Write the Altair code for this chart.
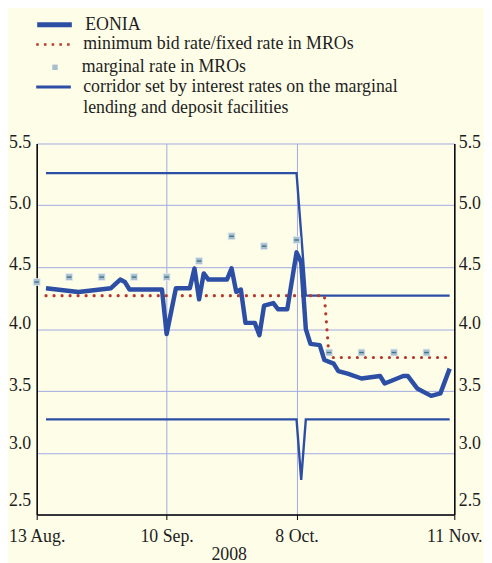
import altair as alt
import pandas as pd

# ---------------- data ----------------
eonia_dates = ["2008-08-15", "2008-08-22", "2008-08-29", "2008-08-31", "2008-09-01", "2008-09-02",
               "2008-09-09", "2008-09-10", "2008-09-12", "2008-09-15", "2008-09-16", "2008-09-17",
               "2008-09-18", "2008-09-19", "2008-09-23", "2008-09-24", "2008-09-25", "2008-09-26",
               "2008-09-27", "2008-09-29", "2008-09-30", "2008-10-01", "2008-10-03", "2008-10-04",
               "2008-10-06", "2008-10-08", "2008-10-09", "2008-10-10", "2008-10-11", "2008-10-13",
               "2008-10-14", "2008-10-16", "2008-10-17", "2008-10-19", "2008-10-22", "2008-10-26",
               "2008-10-27", "2008-10-31", "2008-11-01", "2008-11-03", "2008-11-06", "2008-11-08",
               "2008-11-10"]
eonia_values = [4.33, 4.30, 4.33, 4.40, 4.38, 4.32,
                4.32, 3.96, 4.33, 4.33, 4.49, 4.24,
                4.45, 4.40, 4.40, 4.49, 4.30, 4.32,
                4.05, 4.05, 3.95, 4.19, 4.21, 4.16,
                4.16, 4.62, 4.54, 4.00, 3.88, 3.87,
                3.75, 3.72, 3.66, 3.64, 3.60, 3.62,
                3.56, 3.62, 3.62, 3.52, 3.46, 3.48,
                3.68]

mro_dates = ["2008-08-15", "2008-10-14", "2008-10-15", "2008-11-10"]
mro_values = [4.27, 4.27, 3.77, 3.77]

marginal_dates = ["2008-08-13", "2008-08-20", "2008-08-27", "2008-09-03", "2008-09-10", "2008-09-17",
                  "2008-09-24", "2008-10-01", "2008-10-08", "2008-10-15", "2008-10-22", "2008-10-29",
                  "2008-11-05"]
marginal_values = [4.38, 4.42, 4.42, 4.42, 4.42, 4.55, 4.75, 4.67, 4.72, 3.81, 3.81, 3.81, 3.81]

upper_dates = ["2008-08-15", "2008-10-08", "2008-10-09", "2008-10-10", "2008-11-10"]
upper_values = [5.26, 5.26, 4.77, 4.27, 4.27]
lower_dates = ["2008-08-15", "2008-10-08", "2008-10-09", "2008-10-10", "2008-11-10"]
lower_values = [3.27, 3.27, 2.78, 3.27, 3.27]

x_tick_dates = [(2008, 8, 13), (2008, 9, 10), (2008, 10, 8), (2008, 11, 11)]
y_ticks = [2.5, 3.0, 3.5, 4.0, 4.5, 5.0, 5.5]
# vertical nudge of each y tick label as drawn in the original (labels sit a little above their lines)
y_label_nudge = [-14.5, -9, -5, -5.5, -2.5, -1.5, -0.5]

series_names = ["EONIA", "minimum bid rate/fixed rate in MROs", "marginal rate in MROs",
                "corridor set by interest rates on the marginal"]
corridor_label2 = "lending and deposit facilities"

# ---------------- tables ----------------
df_e = pd.DataFrame({"date": eonia_dates, "value": eonia_values, "series": series_names[0]})
df_m = pd.DataFrame({"date": mro_dates, "value": mro_values, "series": series_names[1]})
df_r = pd.DataFrame({"date": marginal_dates, "value": marginal_values, "series": series_names[2]})
df_c = pd.concat([
    pd.DataFrame({"date": upper_dates, "value": upper_values, "band": "upper"}),
    pd.DataFrame({"date": lower_dates, "value": lower_values, "band": "lower"}),
])
df_c["series"] = series_names[3]

BLUE = "#2c4ea5"
RED = "#b83a2c"
FONT = "Liberation Serif"
FS = 18
TXT = "#1e1e1e"
GRID = "#a3aae3"

dt = lambda t: alt.DateTime(year=t[0], month=t[1], date=t[2], utc=True)
xscale = alt.Scale(type="utc", domain=[dt(x_tick_dates[0]), dt(x_tick_dates[-1])])
yscale = alt.Scale(domain=[2.5, 5.5], nice=False, zero=False)

nudge = {"condition": [{"test": f"datum.value == {v}", "value": n}
                       for v, n in zip(y_ticks, y_label_nudge)], "value": 0}

xaxis = alt.Axis(values=[dt(t) for t in x_tick_dates],
                 labelExpr="utcFormat(datum.value, '%-d %b') + '.'",
                 grid=True, gridColor=GRID, gridWidth=1,
                 tickSize=5, tickColor="black", domainColor="black", domainWidth=1.5,
                 labelFont=FONT, labelFontSize=FS, labelColor=TXT, labelPadding=8,
                 labelAlign="center", labelFlush=False,
                 title="2008", titleFont=FONT, titleFontSize=FS, titleFontWeight="normal",
                 titleColor=TXT, titleX=194, titleY=40, titleAlign="center",
                 titleBaseline="middle")

yaxis_left = alt.Axis(orient="left", values=y_ticks, format=".1f", grid=True, gridColor=GRID,
                      gridWidth=1, ticks=False, domainColor="black", domainWidth=1.5,
                      labelFont=FONT, labelFontSize=FS, labelColor=TXT, labelPadding=6,
                      labelFlush=False, labelOffset=nudge, title=None)
yaxis_right = alt.Axis(orient="right", values=y_ticks, format=".1f", grid=False,
                       ticks=False, domainColor="black", domainWidth=1.5,
                       labelFont=FONT, labelFontSize=FS, labelColor=TXT, labelPadding=4,
                       labelFlush=False, labelOffset=nudge, title=None)

def leg(x, y, **kw):
    return alt.Legend(orient="none", legendX=x, legendY=y, title=None, padding=0,
                      labelFont=FONT, labelFontSize=FS, labelColor=TXT, labelLimit=0, **kw)

eonia = alt.Chart(df_e).mark_line(strokeWidth=4.5, strokeJoin="round").encode(
    x=alt.X("date:T", scale=xscale, axis=xaxis),
    y=alt.Y("value:Q", scale=yscale, axis=yaxis_left),
    color=alt.Color("series:N", scale=alt.Scale(domain=[series_names[0]], range=[BLUE]),
                    legend=leg(-2, -140, symbolType="stroke", symbolStrokeWidth=5,
                               symbolSize=1225, labelOffset=11)),
)

mro = alt.Chart(df_m).mark_line(strokeWidth=3.2, strokeDash=[0.1, 8], strokeCap="round").encode(
    x=alt.X("date:T", scale=xscale),
    y=alt.Y("value:Q", scale=yscale, axis=None),
    color=alt.Color("series:N", scale=alt.Scale(domain=[series_names[1]], range=[RED]),
                    legend=leg(-2, -119, symbolType="stroke", symbolStrokeWidth=2.6,
                               symbolSize=1225, symbolDash=[2.6, 5.2], labelOffset=11)),
)

marg = alt.Chart(df_r).mark_square(size=48, opacity=1, stroke="#e4ecf0", strokeWidth=0.8).encode(
    x=alt.X("date:T", scale=xscale),
    y=alt.Y("value:Q", scale=yscale, axis=None),
    color=alt.Color("series:N", scale=alt.Scale(domain=[series_names[2]], range=["#a9bfcf"]),
                    legend=leg(9.5, -86, symbolType="square", symbolSize=30,
                               symbolStrokeWidth=0, labelOffset=18)),
)
marg_dash = alt.Chart(df_r).mark_point(shape="stroke", size=22, stroke="#3f7483",
                                       strokeWidth=1.4, opacity=1).encode(
    x=alt.X("date:T", scale=xscale),
    y=alt.Y("value:Q", scale=yscale, axis=None),
)

corr = alt.Chart(df_c).mark_line(strokeWidth=2.4).encode(
    x=alt.X("date:T", scale=xscale),
    y=alt.Y("value:Q", scale=yscale, axis=yaxis_right),
    detail="band:N",
    color=alt.Color("series:N", scale=alt.Scale(domain=[series_names[3]], range=[BLUE]),
                    legend=leg(-2, -76, symbolType="stroke", symbolStrokeWidth=3,
                               symbolSize=1225, labelOffset=11,
                               labelExpr="[datum.label, '" + corridor_label2 + "']")),
)

chart = alt.layer(corr, mro, eonia, marg, marg_dash).resolve_scale(
    color="independent"
).resolve_axis(y="independent").properties(
    width=422, height=375,
    autosize=alt.AutoSizeParams(type="none"),
    padding={"left": 29, "top": 134, "right": 30, "bottom": 46},
    background="#fdfde8",
).configure(
    view=alt.ViewConfig(stroke=None),
    style={"guide-label": {"lineHeight": 21}},
)

chart.save("out.html", embed_options={"renderer": "svg", "actions": False})
